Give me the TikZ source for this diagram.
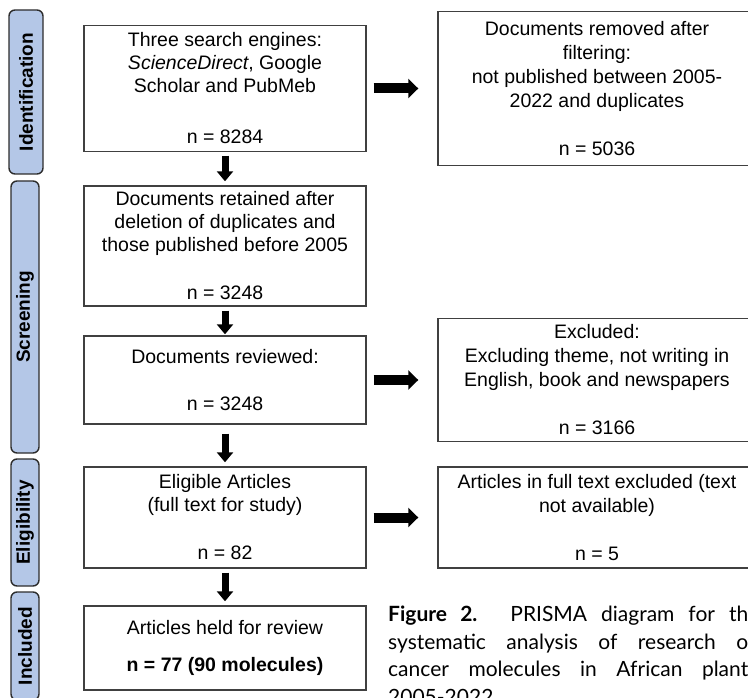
\documentclass[tikz,border=0pt]{standalone}
\usepackage{fontspec}
\setmainfont{Liberation Sans}
\newfontfamily\capfont{Lato}
\usepackage{xcolor}
\usepackage{tikz}
\usetikzlibrary{arrows.meta}
\definecolor{stagefill}{RGB}{180,199,231}
\definecolor{stageline}{RGB}{45,45,45}
\definecolor{boxline}{RGB}{64,64,64}
\tikzset{
  % stage tabs
  stage/.style={draw=stageline, line width=1.4pt, fill=stagefill, rounded corners=6pt,
    rotate=90, inner sep=0pt, font=\fontsize{19}{21}\selectfont\bfseries},
  % flow boxes
  box/.style={draw=boxline, line width=1.4pt, fill=white, align=center, inner sep=0pt,
    minimum width=282pt, font=\fontsize{19.5}{23}\selectfont},
  sidebox/.style={box, minimum width=318pt, font=\fontsize{19.5}{24}\selectfont},
  varrow/.style={line width=7pt, -{Triangle[length=10pt,width=16pt]},
    shorten <=4pt, shorten >=4pt},
  harrow/.style={line width=10pt, -{Triangle[length=10pt,width=19pt]},
    shorten <=7pt, shorten >=19pt},
  caption/.style={anchor=north west, inner sep=0pt, text width=360pt, align=justify,
    font=\capfont\fontsize{21}{27.5}\selectfont}
}

\begin{document}
\begin{tikzpicture}[x=1pt,y=-1pt]
  \useasboundingbox (0,0) rectangle (748,698);
  \clip (0,0) rectangle (748,698);

  % stages
  \node[stage, minimum width=164pt, minimum height=34pt] (sident) at (26,92) {Identification};
  \node[stage, minimum width=272pt, minimum height=28pt] (sscreen) at (25,317) {Screening};
  \node[stage, minimum width=127pt, minimum height=28pt] (selig) at (25,522.5) {Eligibility};
  \node[stage, minimum width=108pt, minimum height=28pt] (sincl) at (25,646) {Included};

  % main column
  \node[box, minimum height=126pt] (search) at (225,88.5)
    {Three search engines:\\ \textit{ScienceDirect}, Google\\ Scholar and PubMeb\\[28pt] n = 8284};
  \node[box, minimum height=120pt] (retained) at (225,246)
    {Documents retained after\\ deletion of duplicates and\\ those published before 2005\\[25pt] n = 3248};
  \node[box, minimum height=88pt] (reviewed) at (225,380)
    {Documents reviewed:\\[24pt] n = 3248};
  \node[box, minimum height=101pt] (eligible) at (225,517.5)
    {Eligible Articles\\ (full text for study)\\[25pt] n = 82};
  \node[box, minimum height=84pt] (held) at (225,648)
    {Articles held for review\\[14pt] \textbf{n = 77 (90 molecules)}};

  % side column
  \node[sidebox, minimum height=154pt] (removed) at (597,88.5)
    {Documents removed after\\ filtering:\\ not published between 2005-\\ 2022 and duplicates\\[24pt] n = 5036};
  \node[sidebox, minimum height=123pt] (excluded) at (597,380)
    {Excluded:\\ Excluding theme, not writing in\\ English, book and newspapers\\[24pt] n = 3166};
  \node[sidebox, minimum height=101pt] (fulltext) at (597,517.5)
    {Articles in full text excluded (text\\ not available)\\[24pt] n = 5};

  \draw[varrow, shorten <=3.5pt] (search) -- (retained);
  \draw[varrow, shorten >=1pt] (retained) -- (reviewed);
  \draw[varrow, shorten <=9pt] (reviewed) -- (eligible);
  \draw[varrow] (eligible) -- (held);

  \draw[harrow] (search) -- (removed);
  \draw[harrow] (reviewed) -- (excluded);
  \draw[harrow] (eligible) -- (fulltext);

  \node[caption] (cap) at (388,606)
    {\textbf{Figure 2.} PRISMA diagram for th\linebreak
     systematic analysis of research o\linebreak
     cancer molecules in African plant\linebreak
     2005-2022};
\end{tikzpicture}
\end{document}
